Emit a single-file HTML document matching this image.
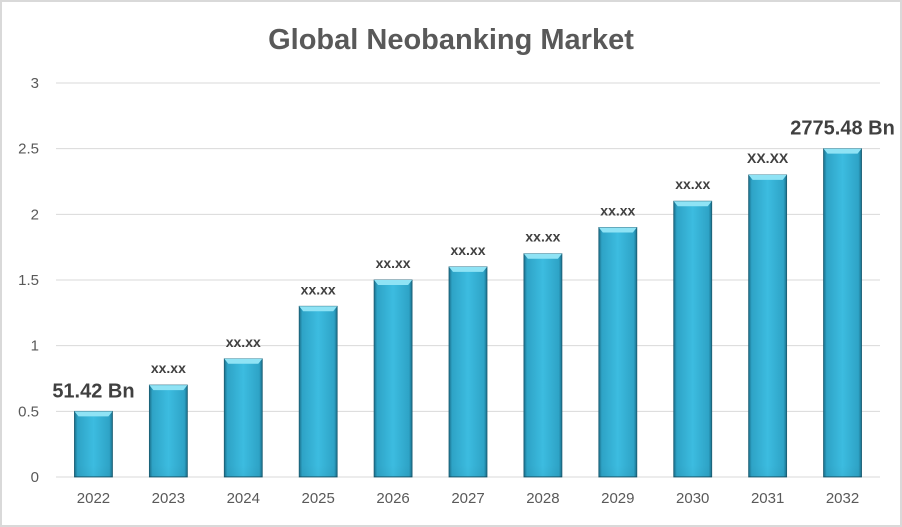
<!DOCTYPE html>
<html><head><meta charset="utf-8"><style>
body{margin:0;background:#fff}
svg{display:block;font-family:"Liberation Sans",Arial,sans-serif}
</style></head><body>
<svg width="902" height="527" xmlns="http://www.w3.org/2000/svg">
<defs>
<linearGradient id="bg" x1="0" x2="1" y1="0" y2="0">
<stop offset="0" stop-color="#1a6f8a"/><stop offset="0.08" stop-color="#2ea3c6"/><stop offset="0.5" stop-color="#3cbce0"/><stop offset="0.92" stop-color="#2ea3c6"/><stop offset="1" stop-color="#1a6f8a"/>
</linearGradient>
<linearGradient id="bv" x1="0" x2="0" y1="0" y2="1">
<stop offset="0" stop-color="#000" stop-opacity="0"/><stop offset="0.9" stop-color="#000" stop-opacity="0.03"/><stop offset="1" stop-color="#000" stop-opacity="0.25"/>
</linearGradient>
</defs>
<rect x="1" y="1" width="900" height="525" fill="#fff" stroke="#d9d9d9" stroke-width="2"/>
<text x="451" y="49" text-anchor="middle" font-size="29" font-weight="bold" fill="#595959">Global Neobanking Market</text>
<g id="grid"></g><g id="bars"></g><g id="labels"></g>
</svg>
<script>
const categories=["2022","2023","2024","2025","2026","2027","2028","2029","2030","2031","2032"];
const values=[0.5,0.7,0.9,1.3,1.5,1.6,1.7,1.9,2.1,2.3,2.5];
const valueLabels=["51.42 Bn","xx.xx","xx.xx","xx.xx","xx.xx","xx.xx","xx.xx","xx.xx","xx.xx","XX.XX","2775.48 Bn"];
const yTicks=[0,0.5,1,1.5,2,2.5,3];
const ns="http://www.w3.org/2000/svg";
const x0=56,x1=880,yb=477,yt=83,ymax=3;
const band=(x1-x0)/categories.length,bw=38;
const y=v=>yb-(v/ymax)*(yb-yt);
const xc=i=>x0+band*(i+0.5);
function mk(t,a,p){const e=document.createElementNS(ns,t);for(const k in a)e.setAttribute(k,a[k]);p.appendChild(e);return e;}
const g=document.getElementById('grid'),b=document.getElementById('bars'),l=document.getElementById('labels');
yTicks.forEach(t=>{
 const ln=mk('line',{x1:x0,x2:x1,y1:y(t),y2:y(t),stroke:'#d9d9d9','stroke-width':1},g);
 
 
 const tx=mk('text',{x:39,y:y(t)+5,'text-anchor':'end','font-size':15,fill:'#595959'},g);
 tx.textContent=String(t);
 
 
});
categories.forEach((c,i)=>{
 const cx=xc(i),top=y(values[i]),h=yb-top;
 const grp=mk('g',{},b);
 
 
 mk('rect',{x:cx-bw/2,y:top,width:bw,height:h,fill:'url(#bg)',stroke:'#1b5d73','stroke-width':0.8},grp);
 mk('rect',{x:cx-bw/2,y:Math.max(top,yb-12),width:bw,height:Math.min(h,12),fill:'url(#bv)'},grp);
 mk('polygon',{points:`${cx-bw/2},${top} ${cx+bw/2},${top} ${cx+bw/2-4},${top+5} ${cx-bw/2+4},${top+5}`,fill:'#8fe3f5'},grp);
 const xl=mk('text',{x:cx,y:503,'text-anchor':'middle','font-size':15,fill:'#595959'},l);
 xl.textContent=c;
 
 
 const big=i===0||i===categories.length-1;
 const vl=mk('text',{x:cx,y:top-(big?14:12),'text-anchor':'middle','font-size':big?20:14,'font-weight':'bold',fill:'#404040'},l);
 vl.textContent=valueLabels[i];
 
 
});
</script>
</body></html>
